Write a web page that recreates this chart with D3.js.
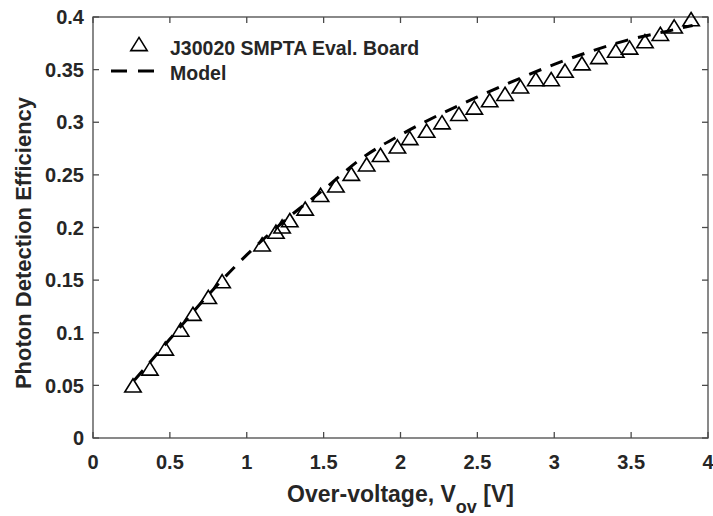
<!DOCTYPE html>
<html>
<head>
<meta charset="utf-8">
<script src="https://cdn.jsdelivr.net/npm/d3@7"></script>
<style>
  body { margin: 0; background: #fff; }
  text { font-family: "Liberation Sans", Arial, sans-serif; font-weight: bold; fill: #262626; }
</style>
</head>
<body>
<svg width="713" height="516"></svg>
<script>
// measured data (J30020 eval board)
var measV = [0.26, 0.37, 0.47, 0.57, 0.65, 0.75, 0.84, 1.10, 1.19, 1.23, 1.28, 1.38, 1.48, 1.58,
             1.68, 1.78, 1.87, 1.98, 2.06, 2.17, 2.27, 2.38, 2.48, 2.58, 2.68, 2.78, 2.88, 2.98,
             3.07, 3.18, 3.29, 3.40, 3.49, 3.59, 3.69, 3.78, 3.89];
var measPDE = [0.050, 0.066, 0.085, 0.103, 0.118, 0.134, 0.149, 0.184, 0.196, 0.201, 0.207, 0.218, 0.231, 0.240,
               0.251, 0.260, 0.269, 0.277, 0.285, 0.292, 0.300, 0.308, 0.314, 0.321, 0.327, 0.334, 0.341, 0.341,
               0.349, 0.356, 0.362, 0.368, 0.371, 0.377, 0.384, 0.391, 0.398];

// model curve
var modelV = [0.27, 0.5, 0.75, 1.0, 1.25, 1.5, 1.75, 2.0, 2.25, 2.5, 2.75, 3.0, 3.25, 3.5, 3.75, 3.9];
var modelPDE = [0.055, 0.094, 0.136, 0.174, 0.207, 0.236, 0.266, 0.288, 0.307, 0.324, 0.340, 0.355, 0.368, 0.379, 0.387, 0.392];

var xTicks = [0, 0.5, 1, 1.5, 2, 2.5, 3, 3.5, 4];
var yTicks = [0, 0.05, 0.1, 0.15, 0.2, 0.25, 0.3, 0.35, 0.4];

var legendLabels = ["J30020 SMPTA Eval. Board", "Model"];

var svg = d3.select("svg"),
    box = {left: 93, right: 708, top: 17, bottom: 438};

var x = d3.scaleLinear().domain([0, 4]).range([box.left, box.right]);
var y = d3.scaleLinear().domain([0, 0.4]).range([box.bottom, box.top]);

// triangle marker like matlab '^'
var tri = {
  draw: function(ctx, size) {
    var w = 8.2, h = 6.6;
    ctx.moveTo(0, -h);
    ctx.lineTo(w, h);
    ctx.lineTo(-w, h);
    ctx.closePath();
  }
};

// axes box with inward ticks
var axisCol = "#4a4a4a";
svg.append("rect")
    .attr("x", box.left).attr("y", box.top)
    .attr("width", box.right - box.left).attr("height", box.bottom - box.top)
    .attr("fill", "none").attr("stroke", axisCol).attr("stroke-width", 1.3);

var tickLen = 6;
xTicks.forEach(function(t) {
  svg.append("line").attr("x1", x(t)).attr("x2", x(t)).attr("y1", box.bottom).attr("y2", box.bottom - tickLen)
     .attr("stroke", axisCol).attr("stroke-width", 1.3);
  svg.append("line").attr("x1", x(t)).attr("x2", x(t)).attr("y1", box.top).attr("y2", box.top + tickLen)
     .attr("stroke", axisCol).attr("stroke-width", 1.3);
  svg.append("text").attr("x", x(t)).attr("y", box.bottom + 31)
     .attr("text-anchor", "middle").style("font-size", "20px").text(t);
});
yTicks.forEach(function(t) {
  svg.append("line").attr("x1", box.left).attr("x2", box.left + tickLen).attr("y1", y(t)).attr("y2", y(t))
     .attr("stroke", axisCol).attr("stroke-width", 1.3);
  svg.append("line").attr("x1", box.right).attr("x2", box.right - tickLen).attr("y1", y(t)).attr("y2", y(t))
     .attr("stroke", axisCol).attr("stroke-width", 1.3);
  svg.append("text").attr("x", box.left - 9).attr("y", y(t)).attr("dy", "0.36em")
     .attr("text-anchor", "end").style("font-size", "20px").text(t);
});

// model line
var line = d3.line()
    .x(function(d, i) { return x(modelV[i]); })
    .y(function(d) { return y(d); })
    .curve(d3.curveMonotoneX);

svg.append("path")
    .datum(modelPDE)
    .attr("d", line)
    .attr("fill", "none")
    .attr("stroke", "#000")
    .attr("stroke-width", 3)
    .attr("stroke-dasharray", "13,10");

// measured points
svg.selectAll(".pt")
    .data(measPDE)
    .enter().append("path")
    .attr("class", "pt")
    .attr("transform", function(d, i) { return "translate(" + x(measV[i]) + "," + y(d) + ")"; })
    .attr("d", d3.symbol().type(tri))
    .attr("fill", "none")
    .attr("stroke", "#000")
    .attr("stroke-width", 1.6);

// legend
svg.append("path")
    .attr("transform", "translate(139,44)")
    .attr("d", d3.symbol().type(tri))
    .attr("fill", "none").attr("stroke", "#000").attr("stroke-width", 1.6);
svg.append("line")
    .attr("x1", 111).attr("x2", 155).attr("y1", 71).attr("y2", 71)
    .attr("stroke", "#000").attr("stroke-width", 3).attr("stroke-dasharray", "16,11");
svg.selectAll(".leg")
    .data(legendLabels)
    .enter().append("text")
    .attr("class", "leg")
    .attr("x", 170)
    .attr("y", function(d, i) { return 55 + i * 25; })
    .style("font-size", "19.5px")
    .text(function(d) { return d; });

// axis labels
var xl = svg.append("text")
    .attr("x", (box.left + box.right) / 2)
    .attr("y", 502)
    .attr("text-anchor", "middle")
    .style("font-size", "23px");
xl.append("tspan").text("Over-voltage, V");
xl.append("tspan").attr("dy", 11).style("font-size", "18px").text("ov");
xl.append("tspan").attr("dy", -11).text(" [V]");

svg.append("text")
    .attr("transform", "translate(31,243) rotate(-90)")
    .attr("text-anchor", "middle")
    .style("font-size", "22px")
    .text("Photon Detection Efficiency");
</script>
</body>
</html>
